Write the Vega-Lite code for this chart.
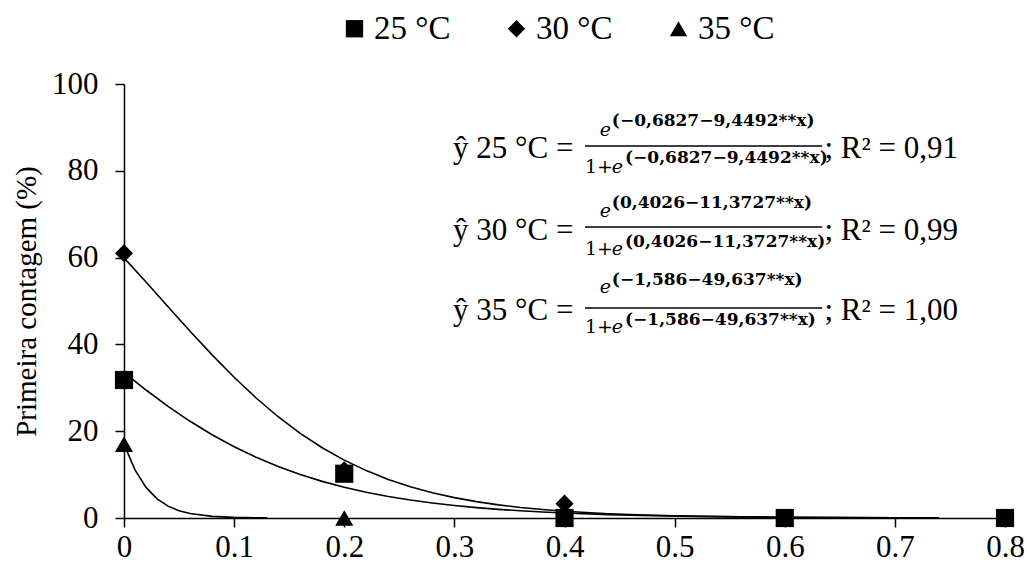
{
  "$schema": "https://vega.github.io/schema/vega-lite/v6.json",
  "width": 881,
  "height": 434,
  "autosize": {"type": "none"},
  "padding": {"left": 124, "top": 84, "right": 22, "bottom": 51},
  "background": "white",
  "config": {
    "view": {"stroke": null},
    "font": "Liberation Serif",
    "axis": {"grid": false, "domainColor": "black", "tickColor": "black", "labelColor": "black", "titleColor": "black", "labelFont": "Liberation Serif", "titleFont": "Liberation Serif", "labelFontSize": 31, "titleFontSize": 29, "titleFontWeight": "normal", "domainWidth": 1.5, "tickWidth": 1.5, "tickSize": 9}
  },
  "datasets": {
    "points": [
      {"series": "35 °C", "x": 0, "y": 17},
      {"series": "35 °C", "x": 0.2, "y": 0},
      {"series": "35 °C", "x": 0.4, "y": 0},
      {"series": "35 °C", "x": 0.6, "y": 0},
      {"series": "35 °C", "x": 0.8, "y": 0},
      {"series": "30 °C", "x": 0, "y": 61},
      {"series": "30 °C", "x": 0.2, "y": 11},
      {"series": "30 °C", "x": 0.4, "y": 3.3},
      {"series": "30 °C", "x": 0.6, "y": 0},
      {"series": "30 °C", "x": 0.8, "y": 0},
      {"series": "25 °C", "x": 0, "y": 31.8},
      {"series": "25 °C", "x": 0.2, "y": 10.2},
      {"series": "25 °C", "x": 0.4, "y": 0},
      {"series": "25 °C", "x": 0.6, "y": 0},
      {"series": "25 °C", "x": 0.8, "y": 0}
    ],
    "curves": [
      {"s": "25", "x": 0, "y": 33.57}, {"s": "25", "x": 0.02, "y": 29.49}, {"s": "25", "x": 0.04, "y": 25.72}, {"s": "25", "x": 0.06, "y": 22.28},
      {"s": "25", "x": 0.08, "y": 19.18}, {"s": "25", "x": 0.1, "y": 16.42}, {"s": "25", "x": 0.12, "y": 13.98}, {"s": "25", "x": 0.14, "y": 11.86},
      {"s": "25", "x": 0.16, "y": 10.02}, {"s": "25", "x": 0.18, "y": 8.44}, {"s": "25", "x": 0.2, "y": 7.09}, {"s": "25", "x": 0.22, "y": 5.94},
      {"s": "25", "x": 0.24, "y": 4.97}, {"s": "25", "x": 0.26, "y": 4.15}, {"s": "25", "x": 0.28, "y": 3.46}, {"s": "25", "x": 0.3, "y": 2.88},
      {"s": "25", "x": 0.32, "y": 2.4}, {"s": "25", "x": 0.34, "y": 1.99}, {"s": "25", "x": 0.36, "y": 1.66}, {"s": "25", "x": 0.38, "y": 1.37},
      {"s": "25", "x": 0.4, "y": 1.14}, {"s": "25", "x": 0.44, "y": 0.78}, {"s": "25", "x": 0.48, "y": 0.54}, {"s": "25", "x": 0.52, "y": 0.37},
      {"s": "25", "x": 0.56, "y": 0.25}, {"s": "25", "x": 0.6, "y": 0.17}, {"s": "25", "x": 0.65, "y": 0.11}, {"s": "25", "x": 0.7, "y": 0.07}, {"s": "25", "x": 0.74, "y": 0.05},
      {"s": "30", "x": 0, "y": 59.93}, {"s": "30", "x": 0.02, "y": 54.37}, {"s": "30", "x": 0.04, "y": 48.69}, {"s": "30", "x": 0.06, "y": 43.05},
      {"s": "30", "x": 0.08, "y": 37.58}, {"s": "30", "x": 0.1, "y": 32.42}, {"s": "30", "x": 0.12, "y": 27.65}, {"s": "30", "x": 0.14, "y": 23.33},
      {"s": "30", "x": 0.16, "y": 19.51}, {"s": "30", "x": 0.18, "y": 16.18}, {"s": "30", "x": 0.2, "y": 13.33}, {"s": "30", "x": 0.22, "y": 10.92},
      {"s": "30", "x": 0.24, "y": 8.89}, {"s": "30", "x": 0.26, "y": 7.21}, {"s": "30", "x": 0.28, "y": 5.83}, {"s": "30", "x": 0.3, "y": 4.7},
      {"s": "30", "x": 0.32, "y": 3.78}, {"s": "30", "x": 0.34, "y": 3.03}, {"s": "30", "x": 0.36, "y": 2.43}, {"s": "30", "x": 0.38, "y": 1.95},
      {"s": "30", "x": 0.4, "y": 1.56}, {"s": "30", "x": 0.44, "y": 0.99}, {"s": "30", "x": 0.48, "y": 0.63}, {"s": "30", "x": 0.52, "y": 0.4},
      {"s": "30", "x": 0.56, "y": 0.26}, {"s": "30", "x": 0.6, "y": 0.16}, {"s": "30", "x": 0.65, "y": 0.09}, {"s": "30", "x": 0.7, "y": 0.05}, {"s": "30", "x": 0.74, "y": 0.03},
      {"s": "35", "x": 0, "y": 16.99}, {"s": "35", "x": 0.01, "y": 11.08}, {"s": "35", "x": 0.02, "y": 7.05}, {"s": "35", "x": 0.03, "y": 4.41},
      {"s": "35", "x": 0.04, "y": 2.73}, {"s": "35", "x": 0.05, "y": 1.68}, {"s": "35", "x": 0.06, "y": 1.03}, {"s": "35", "x": 0.08, "y": 0.38},
      {"s": "35", "x": 0.1, "y": 0.14}, {"s": "35", "x": 0.13, "y": 0.03}
    ],
    "eqmain": [
      {"x": 0.2988, "y": 82.9, "t": "ŷ 25 °C ="},
      {"x": 0.2988, "y": 64.1, "t": "ŷ 30 °C ="},
      {"x": 0.2988, "y": 45.6, "t": "ŷ 35 °C ="},
      {"x": 0.636, "y": 82.9, "t": "; R² = 0,91"},
      {"x": 0.636, "y": 64.1, "t": "; R² = 0,99"},
      {"x": 0.636, "y": 45.6, "t": "; R² = 1,00"}
    ],
    "eqone": [
      {"x": 0.4186, "y": 79.5, "t": "1+"},
      {"x": 0.4186, "y": 60.6, "t": "1+"},
      {"x": 0.4186, "y": 42.6, "t": "1+"}
    ],
    "eqe": [
      {"x": 0.432, "y": 88.0, "t": "e"}, {"x": 0.443, "y": 79.5, "t": "e"},
      {"x": 0.432, "y": 69.4, "t": "e"}, {"x": 0.443, "y": 60.6, "t": "e"},
      {"x": 0.432, "y": 51.8, "t": "e"}, {"x": 0.443, "y": 42.6, "t": "e"}
    ],
    "eqexp": [
      {"x": 0.443, "y": 90.3, "t": "(−0,6827−9,4492**x)"}, {"x": 0.455, "y": 81.8, "t": "(−0,6827−9,4492**x)"},
      {"x": 0.443, "y": 71.4, "t": "(0,4026−11,3727**x)"}, {"x": 0.455, "y": 62.4, "t": "(0,4026−11,3727**x)"},
      {"x": 0.443, "y": 53.7, "t": "(−1,586−49,637**x)"}, {"x": 0.455, "y": 44.5, "t": "(−1,586−49,637**x)"}
    ],
    "fracs": [
      {"x": 0.4186, "x2": 0.634, "y": 85.7},
      {"x": 0.4186, "x2": 0.634, "y": 67.05},
      {"x": 0.4186, "x2": 0.634, "y": 48.4}
    ]
  },
  "layer": [
    {
      "data": {"name": "curves"},
      "mark": {"type": "line", "color": "black", "strokeWidth": 1.6},
      "encoding": {
        "x": {"field": "x", "type": "quantitative", "scale": {"domain": [0, 0.8], "nice": false},
              "axis": {"values": [0, 0.1, 0.2, 0.3, 0.4, 0.5, 0.6, 0.7, 0.8], "format": "~g", "title": null, "labelPadding": 5, "labelFlush": false}},
        "y": {"field": "y", "type": "quantitative", "scale": {"domain": [0, 100], "nice": false},
              "axis": {"values": [0, 20, 40, 60, 80, 100], "title": "Primeira contagem (%)", "labelPadding": 17, "titlePadding": 10}},
        "detail": {"field": "s"}
      }
    },
    {
      "data": {"name": "points"},
      "mark": {"type": "point", "filled": true, "color": "black", "opacity": 1, "size": 330},
      "encoding": {
        "x": {"field": "x", "type": "quantitative"},
        "y": {"field": "y", "type": "quantitative"},
        "shape": {"field": "series", "type": "nominal",
                  "scale": {"domain": ["25 °C", "30 °C", "35 °C"], "range": ["square", "diamond", "triangle-up"]},
                  "legend": {"title": null, "orient": "none", "direction": "horizontal", "legendX": 214, "legendY": -72,
                             "labelFont": "Liberation Serif", "labelFontSize": 33, "labelColor": "black", "symbolFillColor": "black",
                             "symbolStrokeColor": "black", "symbolSize": 300, "labelOffset": 3, "columnPadding": 49, "symbolOpacity": 1}}
      }
    },
    {
      "data": {"name": "fracs"},
      "mark": {"type": "rule", "color": "black", "strokeWidth": 1.5},
      "encoding": {
        "x": {"field": "x", "type": "quantitative"},
        "x2": {"field": "x2"},
        "y": {"field": "y", "type": "quantitative"}
      }
    },
    {
      "data": {"name": "eqmain"},
      "mark": {"type": "text", "align": "left", "baseline": "alphabetic", "font": "Liberation Serif", "fontSize": 31, "color": "black"},
      "encoding": {
        "x": {"field": "x", "type": "quantitative"},
        "y": {"field": "y", "type": "quantitative"},
        "text": {"field": "t"}
      }
    },
    {
      "data": {"name": "eqone"},
      "mark": {"type": "text", "align": "left", "baseline": "alphabetic", "font": "DejaVu Serif", "fontSize": 19, "color": "black"},
      "encoding": {
        "x": {"field": "x", "type": "quantitative"},
        "y": {"field": "y", "type": "quantitative"},
        "text": {"field": "t"}
      }
    },
    {
      "data": {"name": "eqe"},
      "mark": {"type": "text", "align": "left", "baseline": "alphabetic", "font": "DejaVu Serif", "fontStyle": "italic", "fontSize": 19, "color": "black"},
      "encoding": {
        "x": {"field": "x", "type": "quantitative"},
        "y": {"field": "y", "type": "quantitative"},
        "text": {"field": "t"}
      }
    },
    {
      "data": {"name": "eqexp"},
      "mark": {"type": "text", "align": "left", "baseline": "alphabetic", "font": "DejaVu Serif", "fontWeight": "bold", "fontSize": 17, "color": "black"},
      "encoding": {
        "x": {"field": "x", "type": "quantitative"},
        "y": {"field": "y", "type": "quantitative"},
        "text": {"field": "t"}
      }
    }
  ]
}
